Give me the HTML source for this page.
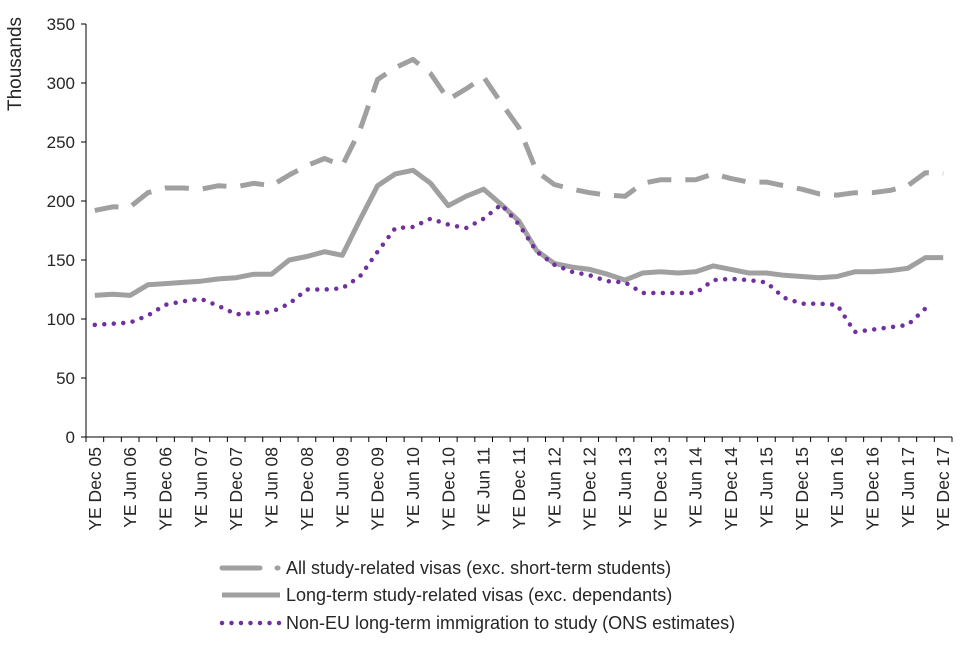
<!DOCTYPE html>
<html><head><meta charset="utf-8"><style>
body{margin:0;background:#fff;width:960px;height:640px;overflow:hidden}
svg text{font-family:"Liberation Sans",Arial,sans-serif;fill:#262626}
</style></head><body>
<svg id="chart" width="960" height="640" xmlns="http://www.w3.org/2000/svg"></svg>
<script>
const categories=[];
const quarters=["Dec","Mar","Jun","Sep"];
const allVisas=[192,195,195,207,211,211,210,213,212,215,213,222,230,236,230,260,303,313,320,308,286,295,305,283,262,225,214,210,207,205,204,215,218,218,218,223,219,216,216,213,210,206,205,207,207,209,213,224,223];
const longTermVisas=[120,121,120,129,130,131,132,134,135,138,138,150,153,157,154,184,213,223,226,215,196,204,210,197,183,158,147,144,142,138,133,139,140,139,140,145,142,139,139,137,136,135,136,140,140,141,143,152,152];
const onsStudy=[95,96,97,103,112,115,117,111,104,105,106,113,125,125,126,136,157,177,178,185,180,177,185,197,180,157,146,140,137,132,131,122,122,122,122,133,134,133,131,118,113,113,112,89,91,93,95,109,null];
const yTicks=[0,50,100,150,200,250,300,350];
for(let i=0;i<49;i++){const yr=2005+Math.floor((i+3)/4);const q=quarters[i%4];categories.push("YE "+q+" "+String(yr%100).padStart(2,"0"));}
const svg=document.getElementById('chart');const NS="http://www.w3.org/2000/svg";
const x0=86,x1=952,y0=437,y1=24;
const step=(x1-x0)/categories.length;
const xs=i=>x0+(i+0.5)*step;
const ys=v=>y0-(v/350)*(y0-y1);
function mk(t,a,p){const e=document.createElementNS(NS,t);for(const k in a)e.setAttribute(k,a[k]);(p||svg).appendChild(e);return e;}
let ax=mk('line',{x1:x0,y1:y1,x2:x0,y2:y0,stroke:'#000','stroke-width':1});


yTicks.forEach(v=>{
 const t=mk('line',{x1:x0-5,y1:ys(v),x2:x0,y2:ys(v),stroke:'#000'});
 
 
 const l=mk('text',{x:x0-11,y:ys(v)+6,'text-anchor':'end','font-size':17});l.textContent=v;
 
 
});
const yt=mk('text',{transform:'translate(21,64) rotate(-90)','text-anchor':'middle','font-size':19});yt.textContent='Thousands';


let xa=mk('line',{x1:x0,y1:y0,x2:x1,y2:y0,stroke:'#000'});


for(let i=0;i<=categories.length;i++){const t=mk('line',{x1:x0+i*step,y1:y0,x2:x0+i*step,y2:y0+5,stroke:'#000'});
 
 }
categories.forEach((c,i)=>{if(i%2)return;
 const l=mk('text',{transform:`translate(${xs(i)+6},447) rotate(-90)`,'text-anchor':'end','font-size':17.5});l.textContent=c;
 
 });
function line(data,style,name){let d='';let pen=false;data.forEach((v,i)=>{if(v==null){pen=false;return;}d+=(pen?'L':'M')+xs(i).toFixed(1)+' '+ys(v).toFixed(1);pen=true;});
 const p=mk('path',Object.assign({d:d,fill:'none','stroke-linejoin':'round'},style));
 
 }
const dashS={stroke:'#a0a0a0','stroke-width':5,'stroke-dasharray':'24 14'};
const solidS={stroke:'#a0a0a0','stroke-width':5};
const dotS={stroke:'#7030a0','stroke-width':4.5,'stroke-dasharray':'0 9.5','stroke-linecap':'round'};
line(allVisas,dashS,'all-study-visas-line');
line(longTermVisas,solidS,'long-term-study-visas-line');
line(onsStudy,dotS,'ons-immigration-study-line');
const leg=[["All study-related visas (exc. short-term students)",Object.assign({},dashS,{'stroke-dasharray':'38 17 1 50','stroke-linecap':'round'}),568,'legend-entry-all-visas'],
["Long-term study-related visas (exc. dependants)",solidS,595,'legend-entry-long-term-visas'],
["Non-EU long-term immigration to study (ONS estimates)",dotS,623,'legend-entry-ons']];
leg.forEach(([t,s,y,n])=>{const g=mk('g',{});
 
 
 mk('line',Object.assign({x1:222,y1:y,x2:280,y2:y},s),g);
 const tx=mk('text',{x:286,y:y+6,'font-size':18},g);tx.textContent=t;});
</script>
</body></html>
